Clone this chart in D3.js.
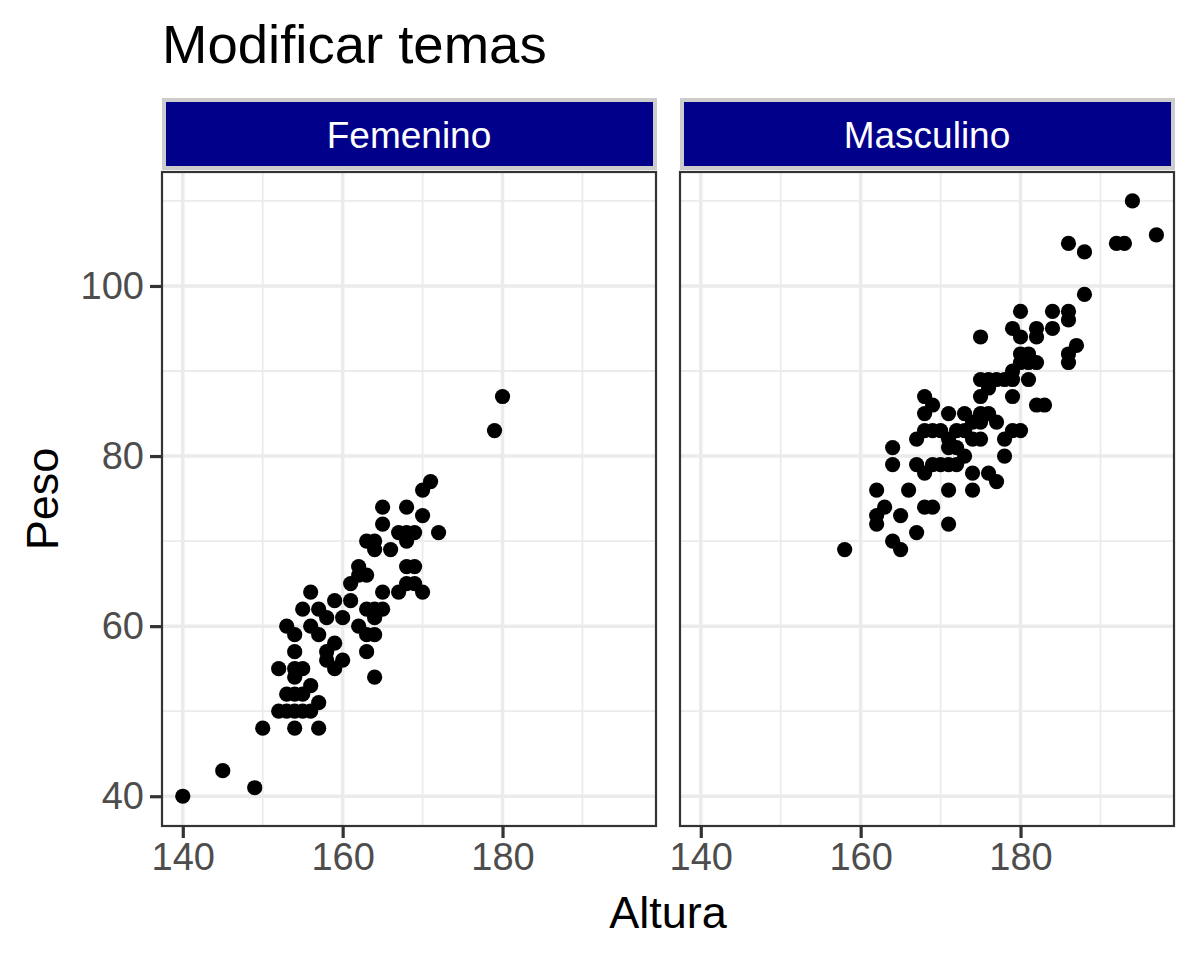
<!DOCTYPE html>
<html>
<head>
<meta charset="utf-8">
<script src="https://cdn.jsdelivr.net/npm/d3@7"></script>
<style>
  body { margin: 0; background: #fff; }
  text { font-family: "Liberation Sans", Arial, sans-serif; }
</style>
</head>
<body>
<div class="container"></div>
<script>
// data
let panels = ['Femenino', 'Masculino']

let femAltura = [140,145,149,150,154,157,152,153,154,155,156,153,154,155,157,156,154,152,154,155,154,
  158,159,160,159,158,163,164,153,154,156,157,158,160,162,163,164,155,157,159,161,164,165,164,156,163,
  161,162,162,163,165,167,168,170,169,168,169,166,164,163,164,167,168,169,168,172,165,165,168,170,170,171,179,180]
let femPeso = [40,43,41,48,48,48,50,50,50,50,50,52,52,52,51,53,54,55,55,55,57,
  57,58,56,55,56,57,54,60,59,60,59,61,61,60,59,59,62,62,63,63,62,62,61,64,62,
  65,66,67,66,64,64,65,64,65,67,67,69,69,70,70,71,71,71,70,71,72,74,74,73,76,77,83,87]

let masAltura = [158,162,162,162,163,164,165,165,166,167,168,169,171,171,174,
  164,164,167,169,170,171,172,168,173,174,176,177,178,
  167,168,169,170,171,171,172,172,173,174,175,174,175,177,178,179,180,
  168,168,169,171,173,175,176,175,176,179,182,183,
  175,176,177,178,179,181,179,180,181,180,181,182,186,186,187,
  175,179,180,182,182,184,180,184,186,186,188,186,188,192,193,194,197]
let masPeso = [69,76,73,72,74,70,69,73,76,71,74,74,72,76,76,
  81,79,79,79,79,79,79,78,80,78,78,77,80,
  82,83,83,83,82,81,81,83,83,82,82,84,84,84,82,83,83,
  85,87,86,85,85,85,85,87,88,87,86,86,
  89,89,89,89,89,89,90,91,91,92,92,91,92,91,93,
  94,95,94,95,94,95,97,97,97,96,99,105,104,105,105,110,106]

let xTicks = [140, 160, 180]
let xMinor = [150, 170, 190]
let yTicks = [40, 60, 80, 100]
let yMinor = [50, 70, 90, 110]

let series = [
  femAltura.map((a, i) => ({x: a, y: femPeso[i]})),
  masAltura.map((a, i) => ({x: a, y: masPeso[i]}))
]

let svg = d3.select('.container')
    .append('svg')
    .attr('width', 1200)
    .attr('height', 960)

let panelW = 494, panelTop = 172, panelBottom = 826
let panelLefts = [162, 680]

let y = d3.scaleLinear()
    .domain([36.5, 113.4])
    .range([panelBottom, panelTop])

svg.append('text')
    .attr('x', 162)
    .attr('y', 63)
    .attr('font-size', 54.5)
    .attr('fill', '#000')
    .text('Modificar temas')

panels.forEach(function(name, p) {
  let left = panelLefts[p]
  let x = d3.scaleLinear()
      .domain([137.4, 199.2])
      .range([left, left + panelW])

  let g = svg.append('g')

  // strip
  g.append('rect')
      .attr('x', left + 2)
      .attr('y', 100)
      .attr('width', panelW - 3)
      .attr('height', 68)
      .attr('fill', '#00008B')
      .attr('stroke', '#CCCCCC')
      .attr('stroke-width', 4)
  g.append('text')
      .attr('x', left + panelW / 2)
      .attr('y', 148)
      .attr('text-anchor', 'middle')
      .attr('font-size', 37)
      .attr('fill', '#fff')
      .text(name)

  // grid
  g.selectAll('.xminor').data(xMinor).enter().append('line')
      .attr('x1', d => x(d)).attr('x2', d => x(d))
      .attr('y1', panelTop).attr('y2', panelBottom)
      .attr('stroke', '#EBEBEB').attr('stroke-width', 1.8)
  g.selectAll('.yminor').data(yMinor).enter().append('line')
      .attr('x1', left).attr('x2', left + panelW)
      .attr('y1', d => y(d)).attr('y2', d => y(d))
      .attr('stroke', '#EBEBEB').attr('stroke-width', 1.8)
  g.selectAll('.xmajor').data(xTicks).enter().append('line')
      .attr('x1', d => x(d)).attr('x2', d => x(d))
      .attr('y1', panelTop).attr('y2', panelBottom)
      .attr('stroke', '#EBEBEB').attr('stroke-width', 3.5)
  g.selectAll('.ymajor').data(yTicks).enter().append('line')
      .attr('x1', left).attr('x2', left + panelW)
      .attr('y1', d => y(d)).attr('y2', d => y(d))
      .attr('stroke', '#EBEBEB').attr('stroke-width', 3.5)

  // points
  g.selectAll('circle').data(series[p]).enter().append('circle')
      .attr('cx', d => x(d.x))
      .attr('cy', d => y(d.y))
      .attr('r', 7.6)
      .style('fill', '#000')

  // border
  g.append('rect')
      .attr('x', left).attr('y', panelTop)
      .attr('width', panelW).attr('height', panelBottom - panelTop)
      .attr('fill', 'none')
      .attr('stroke', '#333333')
      .attr('stroke-width', 2.2)

  // x axis
  let xAxis = d3.axisBottom(x)
      .tickValues(xTicks)
      .tickSize(11)
      .tickPadding(5)
  let xa = g.append('g')
      .attr('transform', 'translate(0,' + (panelBottom + 1) + ')')
      .call(xAxis)
  xa.select('.domain').remove()
  xa.selectAll('.tick line').attr('stroke', '#333333').attr('stroke-width', 3.2)
  xa.selectAll('.tick text')
      .attr('font-size', 38)
      .attr('font-family', '"Liberation Sans", Arial, sans-serif')
      .attr('fill', '#4D4D4D')

  if (p === 0) {
    let yAxis = d3.axisLeft(y)
        .tickValues(yTicks)
        .tickSize(11)
        .tickPadding(6)
    let ya = g.append('g')
        .attr('transform', 'translate(' + (left - 1) + ',0)')
        .call(yAxis)
    ya.select('.domain').remove()
    ya.selectAll('.tick line').attr('stroke', '#333333').attr('stroke-width', 3.2)
    ya.selectAll('.tick text')
        .attr('font-size', 38)
        .attr('font-family', '"Liberation Sans", Arial, sans-serif')
        .attr('fill', '#4D4D4D')
  }
})

svg.append('text')
    .attr('x', (162 + 1174) / 2)
    .attr('y', 928)
    .attr('text-anchor', 'middle')
    .attr('font-size', 45)
    .text('Altura')

svg.append('text')
    .attr('transform', 'translate(58,' + (panelTop + panelBottom) / 2 + ') rotate(-90)')
    .attr('text-anchor', 'middle')
    .attr('font-size', 45)
    .text('Peso')
</script>
</body>
</html>
